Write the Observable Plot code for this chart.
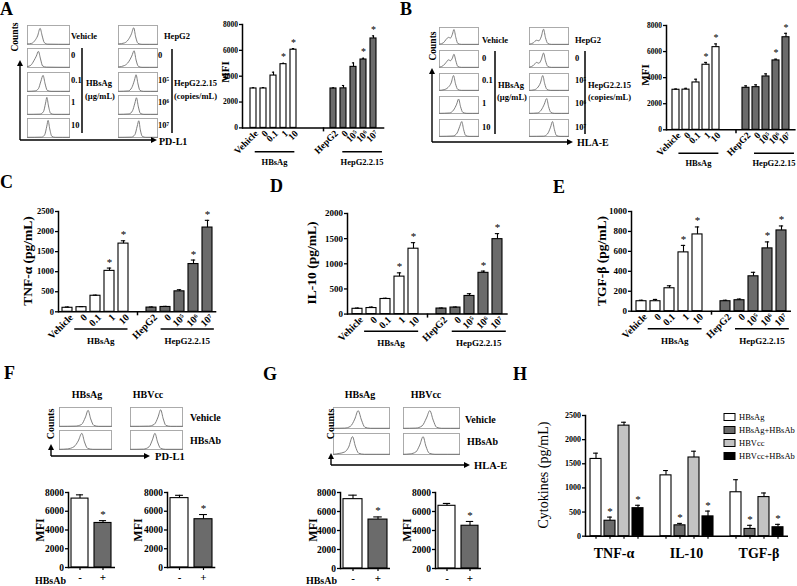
<!DOCTYPE html>
<html><head><meta charset="utf-8">
<script src="https://cdn.jsdelivr.net/npm/d3@7"></script>
<script src="https://cdn.jsdelivr.net/npm/@observablehq/plot@0.6"></script>
<style>
body{margin:0;background:#fff}
#root{position:relative;width:797px;height:586px;overflow:hidden;background:#fff}
#root svg{position:absolute;overflow:visible;background:transparent !important}
</style></head><body><div id="root"></div><script>
const FONT = "'Liberation Serif','Times New Roman',Times,serif";
const WHITE = "#ffffff", DARK = "#6b6b6b", LIGHT = "#c3c3c3", BLACK = "#000000";

// ================= DATA =================
const hbsagDoses = ["Vehicle", "0", "0.1", "1", "10"];
const hepDoses = ["HepG2", "0", "10⁵", "10⁶", "10⁷"];
const doseStars = [false, false, false, true, true];

// A: PD-L1 MFI
const mfiPDL1_HBsAg = [3050, 3050, 4050, 4930, 6050];
const mfiPDL1_HBsAg_err = [60, 70, 260, 70, 90];
const mfiPDL1_HepG = [3050, 3060, 4720, 5290, 6920];
const mfiPDL1_HepG_err = [50, 220, 310, 100, 200];
// B: HLA-E MFI
const mfiHLAE_HBsAg = [3070, 3080, 3630, 4990, 6340];
const mfiHLAE_HBsAg_err = [60, 100, 250, 180, 250];
const mfiHLAE_HepG = [3220, 3270, 4090, 5320, 7100];
const mfiHLAE_HepG_err = [150, 180, 200, 100, 300];
// C: TNF-α
const tnf_HBsAg = [100, 115, 400, 1020, 1700];
const tnf_HBsAg_err = [20, 15, 15, 70, 70];
const tnf_HepG = [105, 120, 510, 1190, 2100];
const tnf_HepG_err = [15, 15, 40, 100, 180];
// D: IL-10
const il10_HBsAg = [105, 120, 300, 745, 1300];
const il10_HBsAg_err = [15, 20, 15, 75, 120];
const il10_HepG = [110, 130, 360, 820, 1490];
const il10_HepG_err = [10, 10, 45, 35, 110];
// E: TGF-β
const tgf_HBsAg = [100, 100, 230, 590, 770];
const tgf_HBsAg_err = [10, 18, 25, 70, 75];
const tgf_HepG = [100, 110, 350, 630, 810];
const tgf_HepG_err = [10, 12, 40, 65, 45];

// F / G: MFI with HBsAb - / +
const abLabels = ["-", "+"];
const abStars = [false, true];
const mfiF_HBsAg = [7350, 4750], mfiF_HBsAg_err = [400, 250];
const mfiF_HBVcc = [7400, 5150], mfiF_HBVcc_err = [300, 500];
const mfiG_HBsAg = [7300, 5150], mfiG_HBsAg_err = [420, 280];
const mfiG_HBVcc = [6600, 4500], mfiG_HBVcc_err = [250, 450];

// H: cytokines
const cytokines = ["TNF-α", "IL-10", "TGF-β"];
const hSeries = ["HBsAg", "HBsAg+HBsAb", "HBVcc", "HBVcc+HBsAb"];
const hValues = [[1600, 320, 2290, 580], [1260, 225, 1630, 410], [910, 150, 810, 185]];
const hErrors = [[120, 75, 70, 60], [100, 40, 130, 110], [260, 75, 85, 60]];
const hStars = [false, true, false, true];

// Flow histograms: [fraction along log axis, fraction of max count]
const histA1 = [
  [[0,0.03],[0.1,0.06],[0.18,0.22],[0.24,0.45],[0.3,0.85],[0.35,0.45],[0.4,0.1],[0.48,0.02],[1,0.01]],
  [[0,0.05],[0.08,0.12],[0.15,0.35],[0.21,0.6],[0.26,0.85],[0.31,0.45],[0.36,0.08],[0.45,0.02],[1,0.01]],
  [[0,0.01],[0.18,0.03],[0.26,0.15],[0.32,0.55],[0.37,0.85],[0.42,0.4],[0.47,0.06],[0.56,0.01],[1,0.01]],
  [[0,0.01],[0.3,0.02],[0.38,0.15],[0.43,0.6],[0.46,0.9],[0.5,0.45],[0.55,0.06],[0.63,0.01],[1,0.01]],
  [[0,0.01],[0.34,0.02],[0.41,0.15],[0.46,0.6],[0.49,0.9],[0.53,0.45],[0.58,0.06],[0.66,0.01],[1,0.01]]
];
const histA2 = [
  [[0,0.03],[0.15,0.08],[0.25,0.25],[0.33,0.55],[0.39,0.88],[0.44,0.4],[0.5,0.06],[0.6,0.01],[1,0.01]],
  [[0,0.03],[0.15,0.1],[0.26,0.3],[0.34,0.6],[0.4,0.88],[0.45,0.4],[0.51,0.06],[0.6,0.01],[1,0.01]],
  [[0,0.01],[0.25,0.03],[0.34,0.2],[0.41,0.6],[0.45,0.88],[0.5,0.4],[0.55,0.06],[0.64,0.01],[1,0.01]],
  [[0,0.01],[0.27,0.03],[0.36,0.2],[0.42,0.6],[0.46,0.88],[0.51,0.4],[0.56,0.06],[0.65,0.01],[1,0.01]],
  [[0,0.01],[0.33,0.02],[0.42,0.15],[0.48,0.6],[0.52,0.88],[0.56,0.4],[0.61,0.06],[0.7,0.01],[1,0.01]]
];
const histB1 = [
  [[0,0.02],[0.1,0.1],[0.17,0.3],[0.23,0.42],[0.28,0.38],[0.33,0.6],[0.37,0.88],[0.42,0.4],[0.47,0.06],[0.56,0.01],[1,0.01]],
  [[0,0.02],[0.1,0.12],[0.17,0.3],[0.23,0.45],[0.28,0.4],[0.33,0.55],[0.37,0.78],[0.42,0.38],[0.47,0.06],[0.56,0.01],[1,0.01]],
  [[0,0.01],[0.12,0.05],[0.22,0.18],[0.3,0.45],[0.36,0.88],[0.41,0.4],[0.47,0.06],[0.56,0.01],[1,0.01]],
  [[0,0.01],[0.25,0.03],[0.36,0.2],[0.44,0.55],[0.49,0.85],[0.54,0.4],[0.6,0.06],[0.7,0.01],[1,0.01]],
  [[0,0.01],[0.35,0.03],[0.45,0.2],[0.52,0.6],[0.57,0.88],[0.62,0.4],[0.67,0.06],[0.76,0.01],[1,0.01]]
];
const histB2 = [
  [[0,0.02],[0.1,0.1],[0.18,0.25],[0.24,0.22],[0.3,0.45],[0.36,0.9],[0.41,0.4],[0.47,0.06],[0.56,0.01],[1,0.01]],
  [[0,0.02],[0.1,0.12],[0.18,0.3],[0.24,0.25],[0.3,0.45],[0.36,0.85],[0.41,0.4],[0.47,0.06],[0.56,0.01],[1,0.01]],
  [[0,0.01],[0.12,0.04],[0.2,0.15],[0.28,0.45],[0.34,0.88],[0.39,0.4],[0.45,0.06],[0.54,0.01],[1,0.01]],
  [[0,0.01],[0.2,0.03],[0.3,0.2],[0.38,0.55],[0.44,0.88],[0.49,0.4],[0.55,0.06],[0.64,0.01],[1,0.01]],
  [[0,0.01],[0.36,0.02],[0.46,0.15],[0.54,0.55],[0.59,0.88],[0.64,0.4],[0.69,0.06],[0.78,0.01],[1,0.01]]
];
const histF = [ // [HBsAg Vehicle, HBsAg HBsAb], [HBVcc Vehicle, HBVcc HBsAb]
  [[[0,0.01],[0.3,0.02],[0.42,0.1],[0.5,0.5],[0.55,0.85],[0.6,0.4],[0.66,0.06],[0.75,0.01],[1,0.01]],
   [[0,0.01],[0.15,0.03],[0.28,0.15],[0.36,0.45],[0.43,0.85],[0.48,0.4],[0.54,0.06],[0.64,0.01],[1,0.01]]],
  [[[0,0.01],[0.35,0.02],[0.46,0.12],[0.53,0.5],[0.58,0.88],[0.63,0.4],[0.68,0.06],[0.77,0.01],[1,0.01]],
   [[0,0.01],[0.25,0.02],[0.36,0.15],[0.42,0.5],[0.47,0.85],[0.52,0.4],[0.58,0.06],[0.67,0.01],[1,0.01]]]
];
const histG = [
  [[[0,0.01],[0.2,0.02],[0.3,0.1],[0.38,0.45],[0.44,0.85],[0.5,0.4],[0.56,0.06],[0.66,0.01],[1,0.01]],
   [[0,0.01],[0.1,0.05],[0.2,0.12],[0.27,0.35],[0.34,0.85],[0.39,0.4],[0.45,0.06],[0.55,0.01],[1,0.01]]],
  [[[0,0.01],[0.22,0.02],[0.33,0.12],[0.41,0.5],[0.47,0.85],[0.53,0.4],[0.59,0.06],[0.68,0.01],[1,0.01]],
   [[0,0.01],[0.12,0.03],[0.22,0.12],[0.29,0.45],[0.35,0.85],[0.4,0.4],[0.46,0.06],[0.56,0.01],[1,0.01]]]
];

// ================= HELPERS =================
const root = document.getElementById("root");
function place(el, left, top) { el.style.left = left + "px"; el.style.top = top + "px"; root.appendChild(el); return el; }

function hist(pts, x, y, w, h) {
  const svg = Plot.plot({
    width: w, height: h, margin: 0,
    x: {domain: [0, 1], axis: null}, y: {domain: [0, 1], axis: null},
    style: {background: "transparent", overflow: "visible"},
    marks: [
      Plot.frame({stroke: "#a3a3a3", strokeWidth: 0.9}),
      Plot.line(pts, {x: d => d[0], y: d => d[1], curve: "monotone-x", stroke: "#6e6e6e", strokeWidth: 0.9})
    ]
  });
  place(svg, x, y);
}

function barChart(c) {
  const rows = [], domain = [], gaps = [];
  c.groups.forEach((g, gi) => {
    if (gi > 0) for (let k = 0; k < (c.gap ?? 1); k++) { const key = `_gap${gi}_${k}`; domain.push(key); gaps.push(key); }
    g.labels.forEach((lab, i) => {
      const key = `${g.id}|${lab}`;
      domain.push(key);
      rows.push({key, v: g.values[i], e: g.errors[i], fill: Array.isArray(g.fill) ? g.fill[i] : g.fill, star: g.stars[i]});
    });
  });
  const [x0, y0, x1, y1] = c.frame;
  const ml = c.ml ?? 45, mr = 6, mt = 18, mb = c.mb ?? 55;
  const step = (x1 - x0) / domain.length, pad = c.padding ?? 0.3, bw = step * (1 - pad);
  const marks = [
    Plot.barY(rows, {x: "key", y: "v", fill: d => d.fill, stroke: "#000", strokeWidth: 1.1}),
    Plot.ruleX(rows, {x: "key", y1: "v", y2: d => d.v + d.e, stroke: "#000", strokeWidth: 1.1}),
    Plot.tickY(rows, {x: "key", y: d => d.v + d.e, stroke: "#000", strokeWidth: 1.1, insetLeft: bw * 0.28, insetRight: bw * 0.28}),
    Plot.text(rows.filter(d => d.star), {x: "key", y: d => d.v + d.e, text: () => "*", dy: -(c.starDy ?? 6), fontSize: c.starSize ?? 11, fontFamily: FONT, fill: "#000"}),
    Plot.axisY(c.yTicks, {tickSize: 3, tickPadding: 1.5, tickFormat: d => String(d), fontSize: c.tickFont ?? 8, fontWeight: "bold", fontFamily: FONT, fill: "#000", label: null, strokeWidth: 1.3}),
    Plot.frame({anchor: "left", strokeWidth: 1.5}),
    Plot.ruleY([0], {strokeWidth: 1.5})
  ];
  if (c.xLabels !== false) {
    marks.push(Plot.axisX(rows.map(d => d.key), {tickSize: c.xTickSize ?? 0, tickRotate: c.rotate ?? -45, tickPadding: c.tickPad ?? 4, dx: c.labelDx ?? 0,
      tickFormat: k => k.split("|")[1], fontSize: c.labelFont ?? 10, fontWeight: "bold", fontFamily: FONT, fill: "#000", label: null, strokeWidth: 1.2}));
  } else {
    marks.push(Plot.axisX(rows.map(d => d.key), {tickSize: 3, tickFormat: () => "", label: null, strokeWidth: 1.2}));
  }
  if (c.gapTick != null && gaps.length) marks.push(Plot.axisX([gaps[c.gapTick]], {tickSize: 4, tickFormat: () => "", label: null, strokeWidth: 1.5}));
  const svg = Plot.plot({
    width: ml + (x1 - x0) + mr, height: mt + (y1 - y0) + mb,
    marginLeft: ml, marginRight: mr, marginTop: mt, marginBottom: mb,
    style: {fontFamily: FONT, background: "transparent", overflow: "visible", color: "#000"},
    x: {domain, paddingInner: pad, paddingOuter: pad / 2},
    y: {domain: [0, c.yMax]},
    color: {type: "identity"},
    marks
  });
  place(svg, x0 - ml, y0 - mt);
  const center = k => x0 + (domain.indexOf(k) + 0.5) * step;
  return {center, bw, x0, x1, y0, y1};
}

// ================= FLOW HISTOGRAMS =================
const rowsA = [25, 48, 72, 95, 118];
histA1.forEach((p, i) => hist(p, 27, rowsA[i], 42, 19));
histA2.forEach((p, i) => hist(p, 118, rowsA[i], 39, 19));
const rowsB = [27, 50, 73, 96, 119];
histB1.forEach((p, i) => hist(p, 439, rowsB[i], 39, 17));
histB2.forEach((p, i) => hist(p, 529, rowsB[i], 39, 17));
const rowsF = [407, 430];
histF[0].forEach((p, i) => hist(p, 59, rowsF[i], 52, 19));
histF[1].forEach((p, i) => hist(p, 130, rowsF[i], 52, 19));
const rowsG = [407, 433];
histG[0].forEach((p, i) => hist(p, 333, rowsG[i], 56, 21));
histG[1].forEach((p, i) => hist(p, 403, rowsG[i], 56, 21));

// ================= BAR CHARTS =================
const doseGroups = (w, we, g, ge) => [
  {id: "HBsAg", labels: hbsagDoses, values: w, errors: we, fill: WHITE, stars: doseStars},
  {id: "HepG", labels: hepDoses, values: g, errors: ge, fill: DARK, stars: doseStars}
];
const chA = barChart({frame: [241.7, 24.3, 384, 127.7], groups: doseGroups(mfiPDL1_HBsAg, mfiPDL1_HBsAg_err, mfiPDL1_HepG, mfiPDL1_HepG_err),
  gap: 3, gapTick: 2, yMax: 8000, yTicks: [0, 2000, 4000, 6000, 8000], padding: 0.38, tickFont: 7.5, labelFont: 9.5, labelDx: 3, starSize: 10});
const chB = barChart({frame: [666, 25, 795.6, 129.3], groups: doseGroups(mfiHLAE_HBsAg, mfiHLAE_HBsAg_err, mfiHLAE_HepG, mfiHLAE_HepG_err),
  gap: 2, gapTick: 1, yMax: 8000, yTicks: [0, 2000, 4000, 6000, 8000], padding: 0.3, tickFont: 7.5, labelFont: 9.5, labelDx: 3, starSize: 10});
const chC = barChart({frame: [57.7, 210.7, 216, 311], groups: doseGroups(tnf_HBsAg, tnf_HBsAg_err, tnf_HepG, tnf_HepG_err),
  gap: 1, gapTick: 0, yMax: 2500, yTicks: [0, 500, 1000, 1500, 2000, 2500], padding: 0.3, tickFont: 8.5, labelFont: 10, labelDx: 4});
const chD = barChart({frame: [347.3, 212.7, 508, 313.3], groups: doseGroups(il10_HBsAg, il10_HBsAg_err, il10_HepG, il10_HepG_err),
  gap: 1, gapTick: 0, yMax: 2000, yTicks: [0, 500, 1000, 1500, 2000], padding: 0.3, tickFont: 9, labelFont: 10, labelDx: 4});
const chE = barChart({frame: [631, 211, 791, 310.7], groups: doseGroups(tgf_HBsAg, tgf_HBsAg_err, tgf_HepG, tgf_HepG_err),
  gap: 1, gapTick: 0, yMax: 1000, yTicks: [0, 200, 400, 600, 800, 1000], padding: 0.3, tickFont: 9, labelFont: 10, labelDx: 4});

const abChart = (frame, id, v, e) => barChart({frame, groups: [{id, labels: abLabels, values: v, errors: e, fill: [WHITE, DARK], stars: abStars}],
  yMax: 8000, yTicks: [0, 2000, 4000, 6000, 8000], padding: 0.25, tickFont: 9.5, labelFont: 11, rotate: 0, xTickSize: 3, tickPad: 3, starSize: 11, mb: 20});
const chF1 = abChart([68, 492, 115, 567], "F1", mfiF_HBsAg, mfiF_HBsAg_err);
const chF2 = abChart([166.7, 492, 215, 567], "F2", mfiF_HBVcc, mfiF_HBVcc_err);
const chG1 = abChart([340, 492, 390, 568], "G1", mfiG_HBsAg, mfiG_HBsAg_err);
const chG2 = abChart([435, 492, 481, 568], "G2", mfiG_HBVcc, mfiG_HBVcc_err);

const hColors = [WHITE, DARK, LIGHT, BLACK];
const chH = barChart({frame: [585, 415, 788, 535.7],
  groups: cytokines.map((c, ci) => ({id: c, labels: hSeries, values: hValues[ci], errors: hErrors[ci], fill: hColors, stars: hStars})),
  gap: 1, gapTick: null, yMax: 2500, yTicks: [0, 500, 1000, 1500, 2000, 2500], padding: 0.24, tickFont: 8, xLabels: false, starSize: 11});

// ================= OVERLAY (annotations) =================
const ov = d3.select(root).append("svg").attr("width", 797).attr("height", 586).style("left", "0px").style("top", "0px").style("pointer-events", "none");
function txt(x, y, s, o = {}) {
  const t = ov.append("text").attr("x", x).attr("y", y).text(s)
    .attr("font-family", FONT).attr("font-size", o.size ?? 9).attr("font-weight", o.weight ?? "bold")
    .attr("text-anchor", o.anchor ?? "start").attr("fill", "#000");
  if (o.rotate) t.attr("transform", `rotate(${o.rotate},${x},${y})`);
  return t;
}
function line(x1, y1, x2, y2, w = 1.5) { ov.append("line").attr("x1", x1).attr("y1", y1).attr("x2", x2).attr("y2", y2).attr("stroke", "#000").attr("stroke-width", w); }
function arrow(x1, y1, x2, y2) {
  const L = Math.hypot(x2 - x1, y2 - y1), ux = (x2 - x1) / L, uy = (y2 - y1) / L, hl = 6, hw = 3;
  line(x1, y1, x2 - ux * hl * 0.8, y2 - uy * hl * 0.8, 1.4);
  const bx = x2 - ux * hl, by = y2 - uy * hl;
  ov.append("path").attr("d", `M${x2},${y2}L${bx - uy * hw},${by + ux * hw}L${bx + uy * hw},${by - ux * hw}Z`).attr("fill", "#000");
}
function axesCorner(x, y, topY, rightX) { arrow(x, y, x, topY); arrow(x, y, rightX, y); }
function underline(ch, gid, labels, text, dy1, dy2, size) {
  const a = ch.center(`${gid}|${labels[1]}`) - ch.bw / 2, b = ch.center(`${gid}|${labels[4]}`) + ch.bw / 2;
  line(a, ch.y1 + dy1, b, ch.y1 + dy1, 1.4);
  txt((a + b) / 2, ch.y1 + dy2, text, {anchor: "middle", size});
}

// Panel letters
[["A", 0, 15], ["B", 400, 15], ["C", 0, 188], ["D", 270, 192], ["E", 553, 193], ["F", 4, 379], ["G", 263, 380], ["H", 513, 380]]
  .forEach(([s, x, y]) => txt(x, y, s, {size: 18}));

// ---- A flow annotations ----
txt(18, 37, "Counts", {size: 9.5, anchor: "middle", rotate: -90});
axesCorner(20, 140, 60, 157);
txt(159, 145, "PD-L1", {size: 10});
const labY = [39, 58, 83, 105, 128];
hbsagDoses.forEach((s, i) => txt(71, labY[i], s, {size: 8.5}));
line(82, 48, 82, 133);
txt(86, 86, "HBsAg", {size: 8.5}); txt(85, 99, "(µg/mL)", {size: 8.5});
hepDoses.forEach((s, i) => txt(i === 0 ? 164 : 158, labY[i], s, {size: 8.5}));
line(172, 49, 172, 133);
txt(174, 86, "HepG2.2.15", {size: 8.5}); txt(174, 99, "(copies/mL)", {size: 8.5});
txt(229, 72, "MFI", {size: 11, anchor: "middle", rotate: -90});
underline(chA, "HBsAg", hbsagDoses, "HBsAg", 24, 37, 8.5);
underline(chA, "HepG", hepDoses, "HepG2.2.15", 24, 37, 8.5);

// ---- B flow annotations ----
txt(436, 46, "Counts", {size: 9.5, anchor: "middle", rotate: -90});
axesCorner(432, 142, 68, 573);
txt(577, 146, "HLA-E", {size: 10});
const labYB = [43, 61, 83, 106, 130];
hbsagDoses.forEach((s, i) => txt(482, labYB[i], s, {size: 8.5}));
line(495, 51, 495, 134);
txt(498, 88, "HBsAg", {size: 8.5}); txt(497, 100, "(µg/mL)", {size: 8.5});
hepDoses.forEach((s, i) => txt(575, labYB[i], s, {size: 8.5}));
line(585, 51, 585, 134);
txt(588, 88, "HepG2.2.15", {size: 8.5}); txt(588, 100, "(copies/mL)", {size: 8.5});
txt(649, 75, "MFI", {size: 11, anchor: "middle", rotate: -90});
underline(chB, "HBsAg", hbsagDoses, "HBsAg", 24, 37, 8.5);
underline(chB, "HepG", hepDoses, "HepG2.2.15", 24, 37, 8.5);

// ---- C, D, E ----
txt(32, 261, "TNF-α (pg/mL)", {size: 13.5, anchor: "middle", rotate: -90});
underline(chC, "HBsAg", hbsagDoses, "HBsAg", 18, 33, 9);
underline(chC, "HepG", hepDoses, "HepG2.2.15", 18, 33, 9);
txt(316, 263, "IL-10 (pg/mL)", {size: 13.5, anchor: "middle", rotate: -90});
underline(chD, "HBsAg", hbsagDoses, "HBsAg", 18, 33, 9);
underline(chD, "HepG", hepDoses, "HepG2.2.15", 18, 33, 9);
txt(606, 261, "TGF-β (pg/mL)", {size: 13.5, anchor: "middle", rotate: -90});
underline(chE, "HBsAg", hbsagDoses, "HBsAg", 18, 33, 9);
underline(chE, "HepG", hepDoses, "HepG2.2.15", 18, 33, 9);

// ---- F ----
txt(87, 398, "HBsAg", {size: 10, anchor: "middle"});
txt(148, 398, "HBVcc", {size: 10, anchor: "middle"});
txt(190, 421, "Vehicle", {size: 10}); txt(190, 444, "HBsAb", {size: 10});
txt(54, 424, "Counts", {size: 10, anchor: "middle", rotate: -90});
axesCorner(51, 456, 444, 150);
txt(155, 460, "PD-L1", {size: 10.5});
txt(44, 530, "MFI", {size: 12, anchor: "middle", rotate: -90});
txt(142, 530, "MFI", {size: 12, anchor: "middle", rotate: -90});
txt(66, 584, "HBsAb", {size: 10, anchor: "end"});

// ---- G ----
txt(360, 398, "HBsAg", {size: 10, anchor: "middle"});
txt(426, 398, "HBVcc", {size: 10, anchor: "middle"});
txt(465, 423, "Vehicle", {size: 10}); txt(467, 445, "HBsAb", {size: 10});
txt(334, 424, "Counts", {size: 10, anchor: "middle", rotate: -90});
axesCorner(331, 465, 453, 470);
txt(474, 469, "HLA-E", {size: 10.5});
txt(317, 530, "MFI", {size: 12, anchor: "middle", rotate: -90});
txt(411, 530, "MFI", {size: 12, anchor: "middle", rotate: -90});
txt(337, 584, "HBsAb", {size: 10, anchor: "end"});

// ---- H ----
txt(548, 475, "Cytokines (pg/mL)", {size: 14, weight: "normal", anchor: "middle", rotate: -90});
cytokines.forEach(c => {
  const m = (chH.center(`${c}|${hSeries[0]}`) + chH.center(`${c}|${hSeries[3]}`)) / 2;
  txt(m, 558, c, {size: 14, anchor: "middle"});
});
const legY = [417, 430, 443, 456];
hSeries.forEach((s, i) => {
  ov.append("rect").attr("x", 724).attr("y", legY[i] - 3.5).attr("width", 11).attr("height", 7).attr("fill", hColors[i]).attr("stroke", "#000").attr("stroke-width", 1);
  txt(739, legY[i] + 3, s, {size: 8.5, weight: "normal"});
});
</script></body></html>
